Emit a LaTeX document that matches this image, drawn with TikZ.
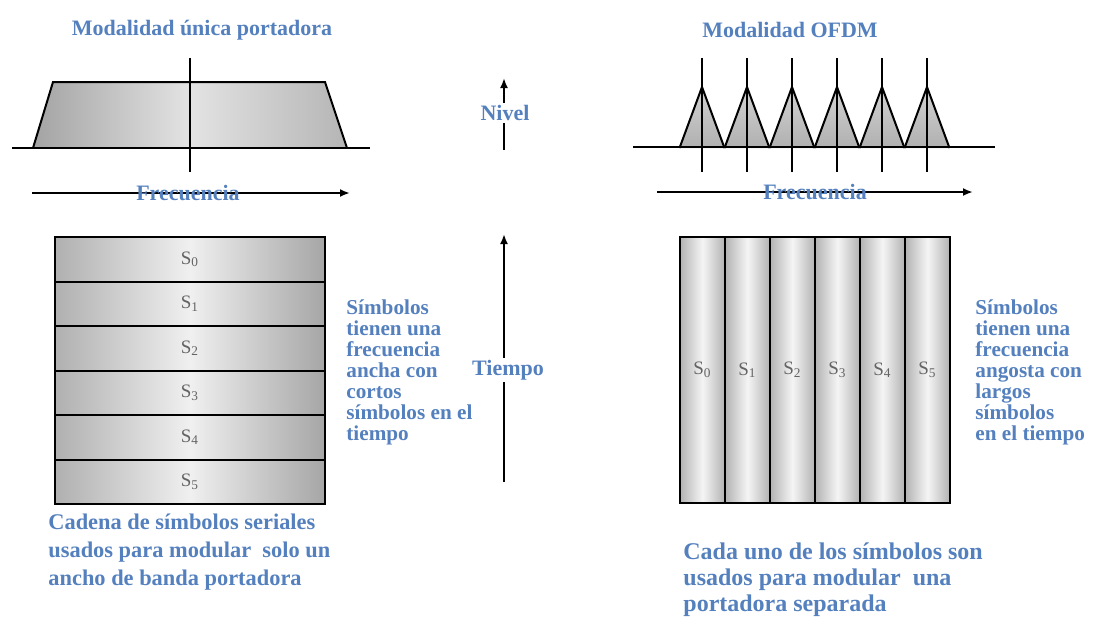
\documentclass[tikz,border=0pt]{standalone}
\usepackage{fontspec}
\setmainfont{Liberation Serif}
\usetikzlibrary{arrows.meta}
\definecolor{txtblue}{RGB}{84,128,190}
\definecolor{symgray}{RGB}{100,100,100}
\tikzset{
  lbl/.style={text=txtblue, font=\bfseries\fontsize{11}{11}\selectfont, inner sep=1pt},
  note/.style={lbl, align=left, anchor=north west, font=\bfseries\fontsize{10.6}{10.5}\selectfont},
  foot/.style={lbl, align=left, anchor=north west, font=\bfseries\fontsize{11.2}{14}\selectfont},
  axis/.style={line width=1pt, -{Latex[length=5pt,width=4pt]}},
  rowbox/.style={draw=black, line width=1pt, minimum width=135pt, minimum height=22.25pt, inner sep=0pt,
    left color=gray!62, right color=gray!70, middle color=gray!12, text=symgray, font=\fontsize{9.5}{9.5}\selectfont},
  colbox/.style={draw=black, line width=1pt, minimum width=22.5pt, minimum height=133pt, inner sep=0pt,
    left color=gray!60, right color=gray!60, middle color=gray!8, text=symgray, font=\fontsize{9.5}{9.5}\selectfont},
}
\begin{document}
\begin{tikzpicture}[x=0.5pt,y=-0.5pt]
\useasboundingbox (0,0) rectangle (1097,617);
% single carrier spectrum
\shade[left color=gray!72, right color=gray!58, middle color=gray!22] (33,148) -- (53,82) -- (325,82) -- (347,148) -- cycle;
\draw[line width=1pt] (33,148) -- (53,82) -- (325,82) -- (347,148);
\draw[line width=1pt] (12,148) -- (370,148);
\draw[line width=1pt] (190,58) -- (190,172);
\node[lbl] (titsc) at (202,30) {Modalidad única portadora};
\coordinate (fsc0) at (32,193);
\coordinate (fsc1) at (350,193);
\draw[axis] (fsc0) -- (fsc1);
\node[lbl] (frecsc) at (188,193) {Frecuencia};

% OFDM spectrum
\foreach \i in {0,...,5} {
  \pgfmathsetmacro\xc{702+45*\i}
  \shade[bottom color=gray!62, top color=gray!35] (\xc-22.5,148) -- (\xc,87) -- (\xc+22.5,148) -- cycle;
  \draw[line width=1pt] (\xc-22.5,148) -- (\xc,87) -- (\xc+22.5,148);
}
\draw[line width=1pt] (633,147) -- (995,147);
\foreach \i/\w in {0/1.4,1/1.0,2/1.4,3/0.6,4/1.1,5/1.4}
  \draw[line width=\w pt] (702+45*\i,58) -- (702+45*\i,172);
\node[lbl] (titofdm) at (790,30) {Modalidad OFDM};
\coordinate (fofdm0) at (657,192);
\coordinate (fofdm1) at (973,192);
\draw[axis] (fofdm0) -- (fofdm1);
\node[lbl] (frecofdm) at (815,192) {Frecuencia};

% level and time axes
\node[lbl] (nivel) at (505,113) {Nivel};
\coordinate (nivbot) at (504,150);
\coordinate (nivtop) at (504,78);
\draw[line width=1pt] (nivbot) -- (nivbot |- nivel.south);
\draw[axis] (nivtop |- nivel.north) -- (nivtop);
\node[lbl] (tiempo) at (508,370) {Tiempo};
\coordinate (tbot) at (504,482);
\coordinate (ttop) at (504,234);
\draw[line width=1pt] (tbot) -- (tbot |- tiempo.south);
\draw[axis] (ttop |- tiempo.north) -- (ttop);

% serial symbols
\foreach \i in {0,...,5}
  \node[rowbox] (row\i) at (190,259.25+44.5*\i) {S\textsubscript{\i}};
\node[note] (notesc) at (344,297) {Símbolos\\tienen una\\frecuencia\\ancha con\\cortos\\símbolos en el\\tiempo};
\node[foot] (footsc) at (46,512) {Cadena de símbolos seriales\\usados para modular\ \ solo un\\ancho de banda portadora};

% parallel symbols
\foreach \i in {0,...,5}
  \node[colbox] (col\i) at (702.5+45*\i,370) {S\textsubscript{\i}};
\node[note] (noteofdm) at (973,297) {Símbolos\\tienen una\\frecuencia\\angosta con\\largos\\símbolos\\en el tiempo};
\node[foot, font=\bfseries\fontsize{12}{13}\selectfont] (footofdm) at (681,540) {Cada uno de los símbolos son\\usados para modular\ \ una\\portadora separada};
\end{tikzpicture}
\end{document}
